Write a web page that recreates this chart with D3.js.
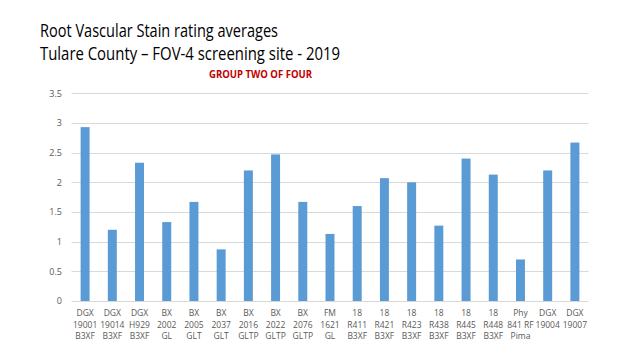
<!DOCTYPE html>
<html><head><meta charset="utf-8">
<script src="https://cdn.jsdelivr.net/npm/d3@7"></script>
<style>body{margin:0;background:#fff}svg{display:block}</style>
</head><body>
<svg id="c" width="640" height="360"></svg>
<script>
const categories = [
  ["DGX","19001","B3XF"],["DGX","19014","B3XF"],["DGX","H929","B3XF"],
  ["BX","2002","GL"],["BX","2005","GLT"],["BX","2037","GLT"],
  ["BX","2016","GLTP"],["BX","2022","GLTP"],["BX","2076","GLTP"],
  ["FM","1621","GL"],["18","R411","B3XF"],["18","R421","B3XF"],
  ["18","R423","B3XF"],["18","R438","B3XF"],["18","R445","B3XF"],
  ["18","R448","B3XF"],["Phy","841 RF","Pima"],["DGX","19004"],["DGX","19007"]
];
const values = [2.93,1.2,2.33,1.33,1.67,0.87,2.2,2.47,1.67,1.13,1.6,2.07,2.0,1.27,2.4,2.13,0.7,2.2,2.67];
const yTicks = [0,0.5,1,1.5,2,2.5,3,3.5];
const titleLines = ["Root Vascular Stain rating averages","Tulare County \u2013 FOV-4 screening site - 2019"];
const subtitle = "GROUP  TWO OF FOUR";

const svg = d3.select("#c");
const L = 71.5, R = 588.5, T = 93.3, B = 301;
const x = d3.scaleBand().domain(d3.range(values.length)).range([L,R]).paddingInner(0.67).paddingOuter(0.335);
const y = d3.scaleLinear().domain([0,3.5]).range([B,T]);

// titles
svg.append("text").attr("x",40).attr("y",37).attr("font-family","Open Sans, sans-serif")
  .attr("font-size",18).attr("fill","#000").attr("textLength",238).attr("lengthAdjust","spacingAndGlyphs").text(titleLines[0]);
svg.append("text").attr("x",40).attr("y",59.5).attr("font-family","Open Sans, sans-serif")
  .attr("font-size",18).attr("fill","#000").attr("textLength",300).attr("lengthAdjust","spacingAndGlyphs").text(titleLines[1]);
svg.append("text").attr("x",209).attr("y",78).attr("font-family","Open Sans, sans-serif")
  .attr("font-size",10).attr("font-weight","bold").attr("fill","#c00000")
  .attr("textLength",103).attr("lengthAdjust","spacingAndGlyphs").text(subtitle);

// gridlines
svg.append("g").selectAll("line").data(yTicks).join("line")
  .attr("x1",L).attr("x2",R).attr("y1",d=>Math.round(y(d))+0.5).attr("y2",d=>Math.round(y(d))+0.5)
  .attr("stroke","#d9d9d9").attr("stroke-width",1);

// y axis labels
const yAxis = d3.axisLeft(y).tickValues(yTicks).tickSize(0).tickPadding(0).tickFormat(d3.format("~g"));
const ga = svg.append("g").attr("transform",`translate(62,0)`).call(yAxis);
ga.select(".domain").remove();
ga.selectAll("text").attr("font-family","Open Sans, sans-serif").attr("font-size",9).attr("fill","#595959");

// bars
svg.append("g").selectAll("rect").data(values).join("rect")
  .attr("x",(d,i)=>x(i)).attr("width",x.bandwidth())
  .attr("y",d=>y(d)).attr("height",d=>B-y(d)).attr("fill","#5b9bd5");

// x labels
const gx = svg.append("g");
categories.forEach((lines,i)=>{
  const cx = x(i)+x.bandwidth()/2;
  const t = gx.append("text").attr("text-anchor","middle").attr("font-family","Open Sans, sans-serif")
    .attr("font-size",8.5).attr("fill","#595959");
  lines.forEach((s,j)=>{
    t.append("tspan").attr("x",cx).attr("y",316+j*11.5).text(s);
  });
});
</script>
</body></html>
